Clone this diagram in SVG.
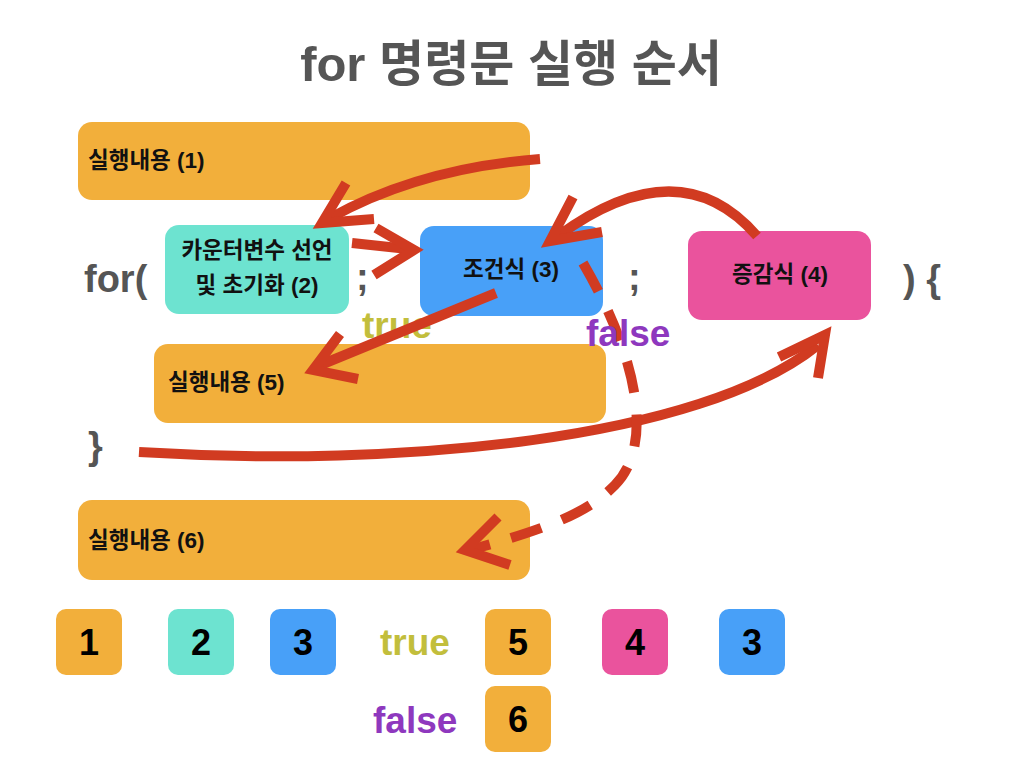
<svg xmlns="http://www.w3.org/2000/svg" width="1024" height="768" viewBox="0 0 1024 768">
<style>
text{font-family:"Liberation Sans","Noto Sans CJK KR",sans-serif;font-weight:bold}
.or{fill:#F2AF3B}.te{fill:#6DE3D0}.bl{fill:#48A0F8}.pk{fill:#EA539D}
.lb{font-size:22.5px;fill:#111}
.code{font-size:38px;fill:#555}
.num{font-size:36px;fill:#000;text-anchor:middle}
.tr{fill:#C2BE3C;font-size:37px}
.fa{fill:#8E38BE;font-size:37px}
.ar{fill:none;stroke:#D13B21;stroke-width:10}
.hd{fill:none;stroke:#D13B21;stroke-width:10;stroke-linejoin:miter;stroke-linecap:butt}
</style>
<rect width="1024" height="768" fill="#fff"/>
<text x="511" y="81" text-anchor="middle" style="font-size:49px;fill:#555">for 명령문 실행 순서</text>

<g id="n1"><rect class="or" x="78" y="122" width="452" height="78" rx="14"/><text class="lb" x="88" y="168">실행내용 (1)</text></g>
<g id="n2"><rect class="te" x="165" y="225" width="184" height="89" rx="14"/><text class="lb" x="257" y="258" text-anchor="middle">카운터변수 선언</text><text class="lb" x="257" y="293" text-anchor="middle">및 초기화 (2)</text></g>
<g id="n3"><rect class="bl" x="420" y="226" width="183" height="90" rx="14"/><text class="lb" x="511" y="277" text-anchor="middle">조건식 (3)</text></g>
<g id="n4"><rect class="pk" x="688" y="231" width="183" height="89" rx="14"/><text class="lb" x="780" y="282" text-anchor="middle">증감식 (4)</text></g>
<g id="n5"><rect class="or" x="154" y="344" width="452" height="79" rx="14"/><text class="lb" x="168" y="390">실행내용 (5)</text></g>
<g id="n6"><rect class="or" x="78" y="500" width="452" height="80" rx="14"/><text class="lb" x="88" y="548">실행내용 (6)</text></g>

<g id="code">
<text class="code" x="84" y="292">for(</text>
<text class="code" x="356" y="290">;</text>
<text class="code" x="628" y="290">;</text>
<text class="code" x="903" y="292">) {</text>
<text class="code" x="88" y="459">}</text>
</g>
<text class="tr" x="362" y="338">true</text>

<g id="connectors">
<path class="ar" d="M540,159 Q420,168 330,218"/>
<polyline class="hd" points="346,183 322,223 374,219"/>
<path class="ar" d="M352,243 L408,249"/>
<polyline class="hd" points="376,228 414,250 374,275"/>
<path class="ar" d="M757,236 Q680,147 558,236"/>
<polyline class="hd" points="573,197 550,241 602,232"/>
<path class="ar" d="M496,293 L318,366"/>
<polyline class="hd" points="340,334 313,370 358,379"/>
<path class="ar" d="M139,452 C400,468 700,440 818,345"/>
<polyline class="hd" points="779,357 825,335 818,378"/>
<path class="ar" d="M583,263 C645,370 650,450 615,485 C590,510 560,525 470,550" stroke-dasharray="32 22"/>
<polyline class="hd" points="498,517 465,550 510,565"/>
</g>
<text class="fa" x="586" y="346">false</text>

<g id="seq">
<g id="s1"><rect class="or" x="56" y="609" width="66" height="66" rx="10"/><text class="num" x="89" y="655">1</text></g>
<g id="s2"><rect class="te" x="168" y="609" width="66" height="66" rx="10"/><text class="num" x="201" y="655">2</text></g>
<g id="s3"><rect class="bl" x="270" y="609" width="66" height="66" rx="10"/><text class="num" x="303" y="655">3</text></g>
<text class="tr" x="380" y="655">true</text>
<g id="s5"><rect class="or" x="485" y="609" width="66" height="66" rx="10"/><text class="num" x="518" y="655">5</text></g>
<g id="s4"><rect class="pk" x="602" y="609" width="66" height="66" rx="10"/><text class="num" x="635" y="655">4</text></g>
<g id="s3b"><rect class="bl" x="719" y="609" width="66" height="66" rx="10"/><text class="num" x="752" y="655">3</text></g>
<text class="fa" x="373" y="733">false</text>
<g id="s6"><rect class="or" x="485" y="686" width="66" height="66" rx="10"/><text class="num" x="518" y="732">6</text></g>
</g>
</svg>
